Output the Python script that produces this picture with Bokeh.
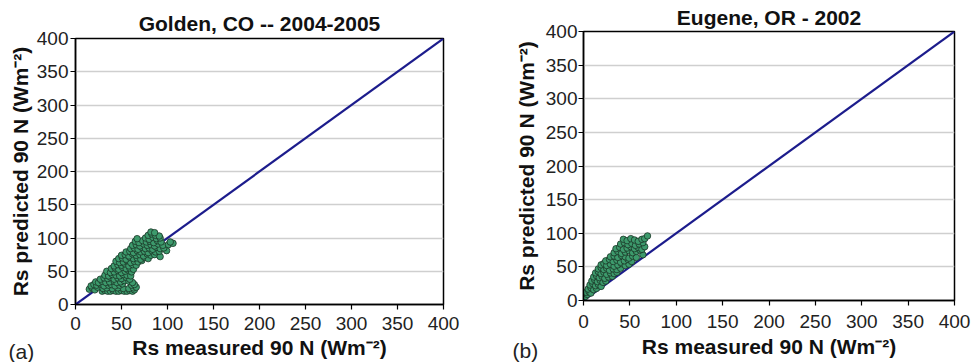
from bokeh.plotting import figure
from bokeh.layouts import row, column
from bokeh.models import FixedTicker, Label
from bokeh.embed import file_html
from bokeh.resources import INLINE

# ---------------- data ----------------
ticks = [0, 50, 100, 150, 200, 250, 300, 350, 400]
line_x = [0, 400]   # 1:1 line
line_y = [0, 400]

titles = ["Golden, CO -- 2004-2005", "Eugene, OR - 2002"]
tags = ["(a)", "(b)"]
x_label = "Rs measured 90 N (Wm\u207b\u00b2)"
y_label = "Rs predicted 90 N (Wm\u207b\u00b2)"

golden_x = [29, 32, 35, 38, 41, 44, 47, 50, 53, 56, 59, 62, 64,
            15, 18, 21, 24, 30, 34, 40, 46, 52, 58, 63, 66,
            17, 20, 23, 27, 31, 36, 39, 43, 48, 51, 61, 64,
            22, 25, 29, 33, 37, 42, 45, 49, 53, 58, 62,
            27, 31, 35, 38, 42, 46, 50, 55, 59,
            32, 36, 40, 44, 48, 52, 56, 60,
            34, 38, 42, 46, 50, 54, 57, 61,
            39, 43, 47, 51, 55, 59, 63,
            42, 46, 50, 54, 58, 62, 66,
            44, 48, 52, 56, 60, 64, 68, 72,
            47, 51, 55, 59, 63, 67, 71, 75, 79,
            50, 54, 58, 62, 66, 70, 74, 78, 82, 86, 92,
            55, 59, 63, 67, 71, 75, 79, 83, 87, 91, 99,
            60, 64, 68, 72, 76, 80, 84, 88, 92, 96,
            62, 66, 70, 74, 78, 82, 86, 90, 95, 101, 106,
            65, 69, 73, 77, 81, 85, 89, 93, 103,
            67, 76, 80, 84, 88, 92,
            79, 83, 87, 91,
            82, 86]
golden_y = [20, 21, 20, 20, 21, 20, 20, 21, 20, 20, 21, 20, 22,
            23, 25, 22, 26, 24, 25, 24, 25, 24, 24, 25, 26,
            28, 30, 29, 31, 28, 29, 30, 28, 29, 31, 29, 30,
            34, 33, 35, 33, 34, 35, 33, 34, 36, 35, 33,
            38, 40, 39, 41, 38, 40, 39, 41, 38,
            44, 43, 45, 44, 43, 45, 44, 43,
            50, 48, 49, 51, 48, 50, 52, 49,
            54, 55, 53, 56, 54, 55, 53,
            58, 60, 59, 61, 58, 60, 59,
            65, 63, 64, 66, 63, 65, 64, 66,
            69, 70, 68, 71, 69, 70, 68, 71, 69,
            74, 75, 73, 76, 74, 75, 73, 76, 74, 75, 72,
            79, 80, 78, 81, 79, 80, 78, 81, 79, 80, 81,
            84, 85, 83, 86, 84, 85, 83, 86, 84, 85,
            89, 90, 88, 91, 89, 90, 88, 91, 89, 90, 92,
            95, 93, 96, 94, 95, 93, 96, 94, 94,
            99, 100, 98, 101, 99, 100,
            104, 106, 104, 103,
            109, 108]

eugene_x = [2, 4, 3, 6, 8, 5, 8, 11, 14, 7, 10, 13, 16, 19,
            9, 12, 15, 18, 21, 24, 11, 14, 17, 20, 23, 27, 31,
            13, 16, 19, 22, 25, 29, 33, 36, 16, 19, 22, 25, 28, 32, 36, 40,
            19, 22, 25, 29, 33, 37, 41, 45, 49, 24, 28, 32, 36, 40, 44, 48, 52,
            29, 33, 37, 41, 45, 49, 53, 57, 64, 33, 37, 41, 45, 49, 53, 57, 61,
            35, 39, 43, 47, 51, 55, 59, 63, 66, 40, 44, 48, 52, 56, 60, 64,
            43, 47, 51, 55, 59, 63, 66, 69]
eugene_y = [6, 9, 12, 13, 11, 17, 19, 16, 18, 23, 25, 22, 24, 21,
            29, 31, 28, 30, 27, 29, 35, 37, 34, 36, 33, 35, 36,
            41, 43, 40, 42, 39, 41, 40, 42, 47, 49, 46, 48, 45, 47, 46, 48,
            53, 55, 52, 54, 51, 53, 55, 52, 54, 59, 61, 58, 60, 57, 59, 61, 58,
            65, 66, 64, 67, 65, 63, 66, 64, 68, 71, 73, 70, 72, 74, 71, 73, 75,
            77, 79, 76, 78, 80, 77, 79, 76, 80, 84, 86, 83, 85, 82, 84, 86,
            91, 89, 92, 90, 88, 91, 92, 96]

FONT = "Liberation Sans"


def make_panel(title, xs, ys, width, mbl, mbr, mbt, mbb, title_standoff,
               x_tick_standoff, x_lab_standoff, y_tick_standoff, y_lab_standoff):
    p = figure(width=width, height=362, x_range=(0, 400), y_range=(0, 400),
               output_backend="svg", toolbar_location=None,
               min_border_left=mbl, min_border_right=mbr,
               min_border_top=mbt, min_border_bottom=mbb)
    p.title.text = title
    p.title.text_font = FONT
    p.title.text_font_style = "bold"
    p.title.text_font_size = "21px"
    p.title.align = "center"
    p.title.standoff = title_standoff
    p.title.text_color = "#111111"

    p.outline_line_color = "#000000"
    p.outline_line_width = 1.5
    p.outline_line_alpha = 1.0
    p.xgrid.visible = False
    p.ygrid.grid_line_color = "#cfcfcf"
    p.ygrid.grid_line_width = 1.5

    for ax in (p.xaxis[0], p.yaxis[0]):
        ax.ticker = FixedTicker(ticks=ticks)
        ax.minor_tick_line_color = None
        ax.major_tick_in = 0
        ax.major_tick_out = 5
        ax.major_tick_line_color = "#000000"
        ax.major_tick_line_width = 1.2
        ax.axis_line_color = "#000000"
        ax.axis_line_width = 1.5
        ax.major_label_text_font = FONT
        ax.major_label_text_font_size = "19px"
        ax.major_label_text_color = "#222222"
        ax.axis_label_text_font = FONT
        ax.axis_label_text_font_style = "bold"
        ax.axis_label_text_font_size = "21px"
        ax.axis_label_text_color = "#111111"

    p.xaxis.axis_label = x_label
    p.xaxis.major_label_standoff = x_tick_standoff
    p.xaxis.axis_label_standoff = x_lab_standoff
    p.yaxis.axis_label = y_label
    p.yaxis.major_label_standoff = y_tick_standoff
    p.yaxis.axis_label_standoff = y_lab_standoff

    p.line(line_x, line_y, line_color="#1c1c8c", line_width=2.2)
    p.scatter(xs, ys, size=6.5, fill_color="#3d9a6c", line_color="#1a3526",
              line_width=0.8)
    return p


left = make_panel(titles[0], golden_x, golden_y, 485, 75, 42, 38, 58, 8,
                  7, 3, 2, 2)
right = make_panel(titles[1], eugene_x, eugene_y, 487, 97, 18, 30, 62, 6,
                   9, 4, 1, 5)

# panel tags, placed in side panels so they are not clipped by the frame
tag_a = Label(x=-435, y=-47, x_units="screen", y_units="screen", text=tags[0],
              text_font=FONT, text_font_size="21px", text_color="#222222",
              text_baseline="alphabetic")
left.add_layout(tag_a, "right")
tag_b = Label(x=27, y=-50, x_units="screen", y_units="screen", text=tags[1],
              text_font=FONT, text_font_size="21px", text_color="#222222",
              text_baseline="alphabetic")
right.add_layout(tag_b, "left")

layout = row(column(left), column(right))
open("out.html", "w").write(file_html(layout, INLINE))
